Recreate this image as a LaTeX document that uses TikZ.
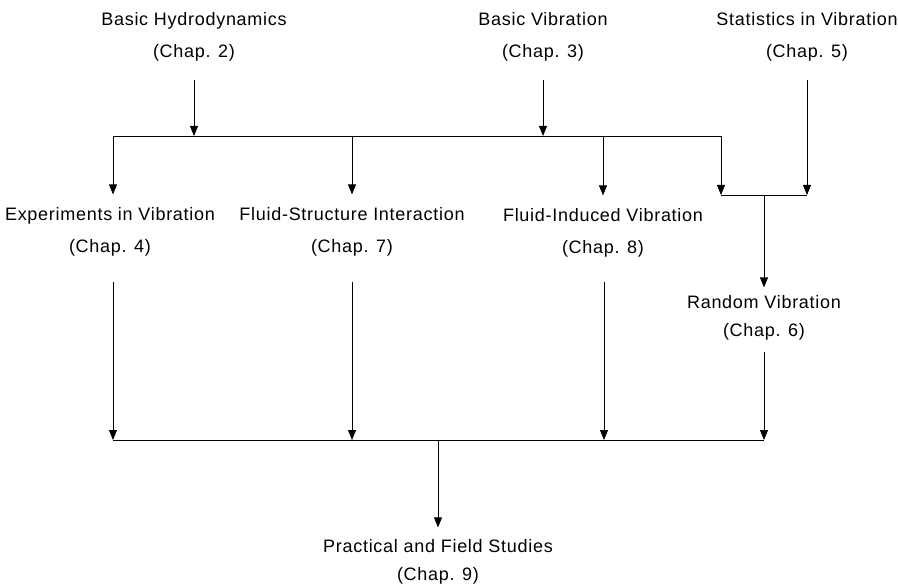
\documentclass[tikz,border=0pt]{standalone}
\usepackage{fontspec}
\setmainfont[LetterSpace=4]{Liberation Sans}
\usetikzlibrary{arrows.meta,calc}
\begin{document}
\begin{tikzpicture}[x=1pt,y=-1pt,
  lbl/.style={align=center,inner sep=0pt,font=\fontsize{18}{32}\selectfont},
  lbls/.style={align=center,inner sep=0pt,font=\fontsize{18}{28}\selectfont},
  ln/.style={line width=0.8pt},
  arr/.style={ln,-{Triangle[width=8pt,length=10pt]}}]
\useasboundingbox (0,0) rectangle (898,588);
% labels
\node[lbl] (hyd) at (194,37) {Basic Hydrodynamics\\(Chap. 2)};
\node[lbl] (vib) at (543,37) {Basic Vibration\\(Chap. 3)};
\node[lbl] (stat) at (807,37) {Statistics in Vibration\\(Chap. 5)};
\node[lbl] (exp) at (110,232) {Experiments in Vibration\\(Chap. 4)};
\node[lbl] (fsi) at (352,232) {Fluid-Structure Interaction\\(Chap. 7)};
\node[lbl] (fiv) at (603,233) {Fluid-Induced Vibration\\(Chap. 8)};
\node[lbls] (rnd) at (764,318) {Random Vibration\\(Chap. 6)};
\node[lbls] (prac) at (438,562) {Practical and Field Studies\\(Chap. 9)};
% junction coordinates
\coordinate (j4) at (113,136);
\coordinate (j7) at (352,136);
\coordinate (j8) at (603,136);
\coordinate (j6) at (721,136);
\coordinate (r1) at (721,195);
\coordinate (r2) at (807,195);
\coordinate (r0) at (764,195);
\coordinate (k4) at (113,440);
\coordinate (k7) at (352,440);
\coordinate (k8) at (604,440);
\coordinate (k6) at (764,440);
\coordinate (k9) at (438,440);
% top bar
\draw[arr,shorten <=18pt] (hyd.south) -- (hyd.south |- j4);
\draw[arr,shorten <=18pt] (vib.south) -- (vib.south |- j4);
\draw[ln] (j4) -- (j6);
\draw[arr,shorten >=13pt] (j4) -- (j4 |- exp.north);
\draw[arr,shorten >=13pt] (j7) -- (j7 |- fsi.north);
\draw[arr,shorten >=13pt] (j8) -- (j8 |- fiv.north);
\draw[arr] (j6) -- (r1);
\draw[arr,shorten <=18pt] (stat.south) -- (r2);
\draw[ln] (r1) -- (r2);
\draw[arr,shorten >=8pt] (r0) -- (rnd.north);
% bottom bar
\draw[arr,shorten <=25pt] (exp.south -| k4) -- (k4);
\draw[arr,shorten <=25pt] (fsi.south -| k7) -- (k7);
\draw[arr,shorten <=24pt] (fiv.south -| k8) -- (k8);
\draw[arr,shorten <=11pt] (rnd.south) -- (k6);
\draw[ln] (k4) -- (k6);
\draw[arr,shorten >=12pt] (k9) -- (prac.north);
\end{tikzpicture}
\end{document}
